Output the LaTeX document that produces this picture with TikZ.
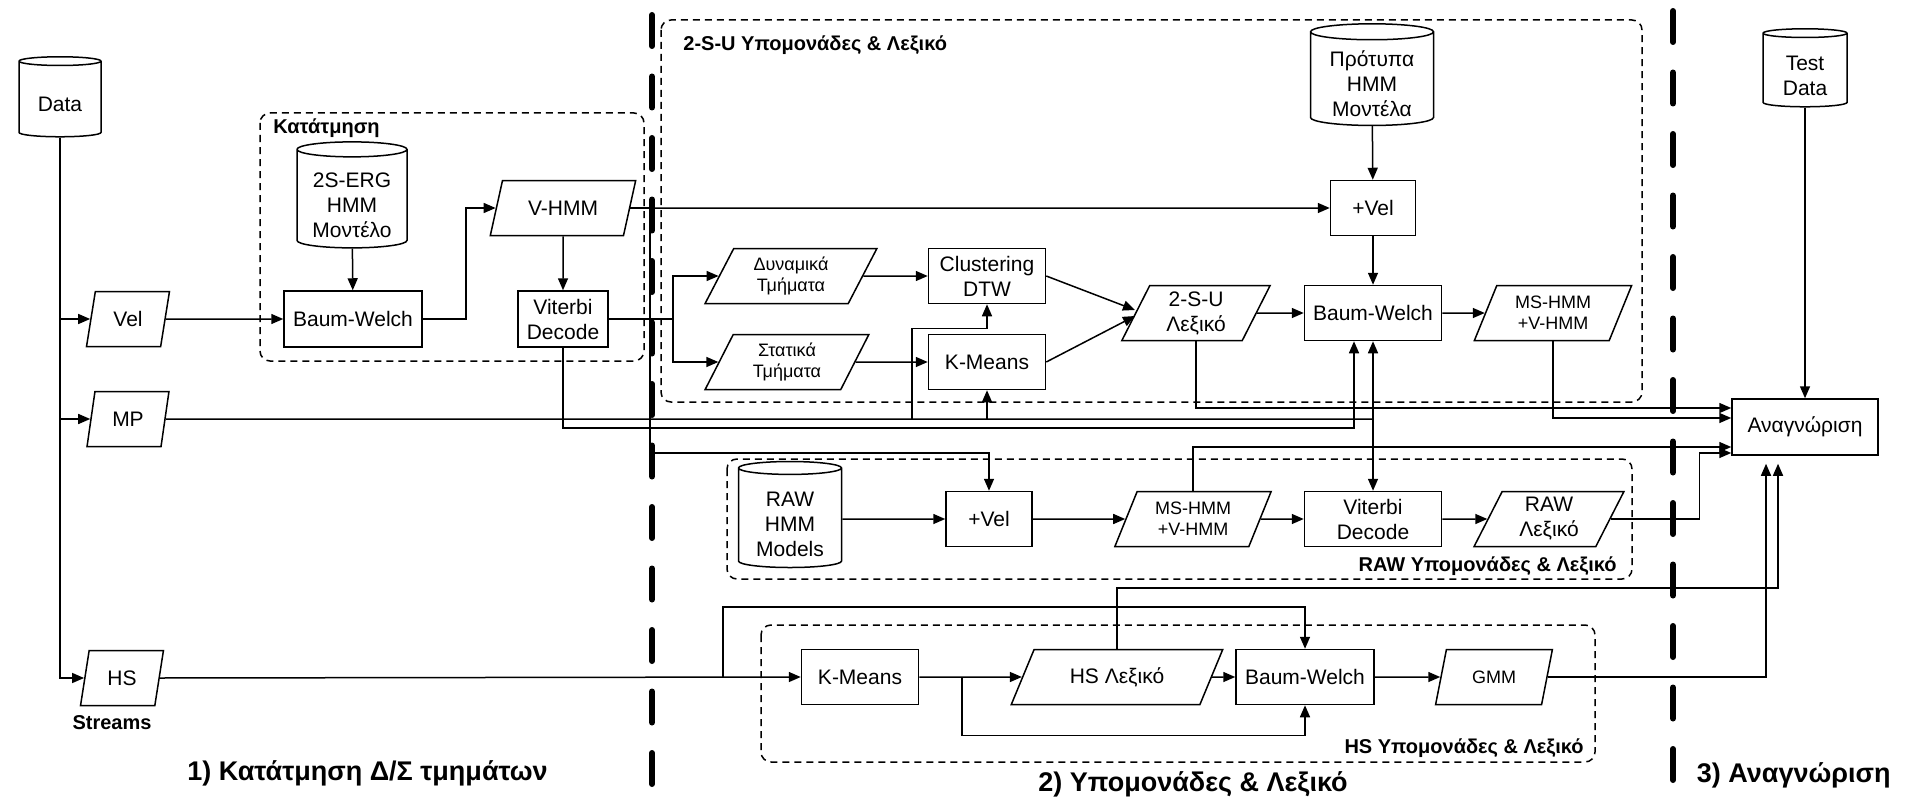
\documentclass[tikz,border=0pt]{standalone}
\usepackage{fontspec}
\setmainfont{Liberation Sans}
\usetikzlibrary{shapes.geometric,arrows.meta}
\newcommand\dbtext[1]{\raisebox{-3.5pt}[\height][\depth]{\begin{tabular}{@{}c@{}}#1\end{tabular}}}

\begin{document}
\begin{tikzpicture}[x=0.5pt,y=-0.5pt,line width=0.75pt,font=\fontsize{10.5}{12.5}\selectfont]
\tikzset{box/.style={rectangle,draw,fill=white,inner sep=2pt,align=center},
  db/.style={cylinder,shape border rotate=90,shape aspect=0.18,draw,fill=white,
    inner sep=1pt,align=center},
  para/.style={trapezium,trapezium stretches=true,trapezium left angle=#1,
    /utils/exec={\pgfmathsetmacro\rang{180-#1}},trapezium right angle=\rang,
    draw,fill=white,inner sep=1pt,align=center},
  para/.default=67,
  small/.style={font=\fontsize{9}{10.5}\selectfont},
  grp/.style={draw,dash pattern=on 3.5pt off 2.5pt,rounded corners=5pt},
  lbl/.style={font=\fontsize{10}{12}\selectfont\bfseries},
  big/.style={font=\fontsize{13.5}{16}\selectfont\bfseries},
  arr/.style={-{Triangle[length=6pt,width=5pt]}},
  divider/.style={line width=3pt,line cap=round,dash pattern=on 15.5pt off 15.25pt}}

\useasboundingbox (0,0) rectangle (1905,797);

% groups
\draw[grp] (260,113) rectangle (644,361);
\draw[grp] (661,20) rectangle (1642,402);
\draw[grp] (727,459) rectangle (1632,579);
\draw[grp] (761,625) rectangle (1595,762);
\node[lbl,anchor=west] (seglbl) at (266,128) {Κατάτμηση};
\node[lbl,anchor=west] (sulbl) at (676,45) {2-S-U Υπομονάδες \& Λεξικό};
\node[lbl,anchor=east] (rawlbl) at (1624,566) {RAW Υπομονάδες \& Λεξικό};
\node[lbl,anchor=east] (hslbl) at (1591,748) {HS Υπομονάδες \& Λεξικό};

% streams
\node[db,minimum width=41pt,minimum height=40pt] (data) at (60,100) {\dbtext{Data}};
\node[para=77,minimum width=41.5pt,minimum height=27.5pt] (vel) at (128,319) {Vel};
\node[para=77,minimum width=41pt,minimum height=27.5pt] (mp) at (128,419) {MP};
\node[para=77,minimum width=41.5pt,minimum height=27.5pt] (hs) at (122,678) {HS};
\node[lbl] (streams) at (112,723) {Streams};

% segmentation
\node[db,minimum width=55pt,minimum height=53pt] (erg) at (352,200) {\dbtext{2S-ERG\\HMM\\Μοντέλο}};
\node[box,minimum width=69pt,minimum height=28pt] (bwseg) at (353,319) {Baum-Welch};
\node[para=68,minimum width=73pt,minimum height=27.5pt] (vhmm) at (563,208) {V-HMM};
\node[box,minimum width=45pt,minimum height=28pt] (vitseg) at (563,319) {Viterbi\\Decode};

% 2-S-U
\node[para=65,small,minimum width=86pt,minimum height=27.5pt] (dyn) at (791,276) {Δυναμικά\\Τμήματα};
\node[para=66,small,minimum width=82pt,minimum height=27.5pt] (stat) at (787,362) {Στατικά\\Τμήματα};
\node[box,minimum width=58.5pt,minimum height=27.5pt] (clus) at (987,276) {Clustering\\DTW};
\node[box,minimum width=58.5pt,minimum height=27.5pt] (kmsu) at (987,362) {K-Means};
\node[para=68,minimum width=74.5pt,minimum height=27.5pt] (lexsu) at (1196,313) {2-S-U\\Λεξικό};
\node[db,minimum width=61.5pt,minimum height=50pt] (protsu) at (1372,80) {\dbtext{Πρότυπα\\HMM\\Μοντέλα}};
\node[box,minimum width=42.5pt,minimum height=27.5pt] (velsu) at (1373,208) {+Vel};
\node[box,minimum width=68.5pt,minimum height=27.5pt] (bwsu) at (1373,313) {Baum-Welch};
\node[para=67,small,minimum width=79pt,minimum height=27.5pt] (mssu) at (1553,313) {MS-HMM\\+V-HMM};

% RAW
\node[db,minimum width=51.5pt,minimum height=53pt] (rawdb) at (790,519) {\dbtext{RAW\\HMM\\Models}};
\node[box,minimum width=43pt,minimum height=27.5pt] (velraw) at (989,519) {+Vel};
\node[para=67,small,minimum width=78.5pt,minimum height=27.5pt] (msraw) at (1193,519) {MS-HMM\\+V-HMM};
\node[box,minimum width=68.5pt,minimum height=27.5pt] (vitraw) at (1373,519) {Viterbi\\Decode};
\node[para=68,minimum width=75pt,minimum height=27.5pt] (lexraw) at (1549,519) {RAW\\Λεξικό};

% HS
\node[box,minimum width=58.5pt,minimum height=27.5pt] (kmhs) at (860,677) {K-Means};
\node[para=60,minimum width=106pt,minimum height=27.5pt] (lexhs) at (1117,677) {HS Λεξικό};
\node[box,minimum width=69pt,minimum height=27.5pt] (bwhs) at (1305,677) {Baum-Welch};
\node[para=72,small,minimum width=58.5pt,minimum height=27.5pt] (gmm) at (1494,677) {GMM};

% recognition
\node[db,minimum width=42pt,minimum height=39pt] (test) at (1805,71) {\dbtext{Test\\Data}};
\node[box,minimum width=73pt,minimum height=28pt] (recog) at (1805,427) {Αναγνώριση};

\node[big,anchor=west] (stage1) at (180,773) {1) Κατάτμηση Δ/Σ τμημάτων};
\node[big] (stage2) at (1193,784) {2) Υπομονάδες \& Λεξικό};
\node[big,anchor=east] (stage3) at (1898,775) {3) Αναγνώριση};

\coordinate (vbr) at (650,453);
\coordinate (seg) at (673,319);
\coordinate (vitdown) at (1354,428);
\coordinate (mpend) at (1373,419);
\coordinate (clusin) at (912,419);
\coordinate (hsbr) at (723,677);
\coordinate (kmbr) at (962,677);

% connectors
\foreach \s in {vel,mp,hs} {
  \draw[arr] (data.south) |- (\s.west);
}
\draw[arr] (vel.east) -- (bwseg.west);
\draw[arr] (erg) -- (bwseg);
\draw[arr] (bwseg.east) -- ++(43,0) |- (vhmm.west);
\draw[arr] (vhmm) -- (vitseg);
\draw[arr] (vhmm.east) -- (velsu.west);
\draw[arr] (vhmm.east) -| (vbr) -| (velraw.north);
\draw (vitseg.east) -- (seg);
\draw[arr] (seg) |- (dyn.west);
\draw[arr] (seg) |- (stat.west);
\draw[arr] (dyn.east) -- (clus.west);
\draw[arr] (stat.east) -- (kmsu.west);
\draw[arr] (clus.east) -- ([yshift=1.5pt]lexsu.west);
\draw[arr] (kmsu.east) -- ([yshift=-1.5pt]lexsu.west);
\draw[arr] (lexsu.east) -- (bwsu.west);
\draw[arr] (bwsu.east) -- (mssu.west);
\draw[arr] (protsu) -- (velsu);
\draw[arr] (velsu) -- (bwsu);
\draw[arr] (vitseg.south) |- (vitdown) -- (vitdown |- bwsu.south);
\draw (mp.east) -- (mpend);
\draw[arr] (clusin) |- ([yshift=-12pt]clus.south) -- (clus.south);
\draw[arr] (kmsu.south |- mpend) -- (kmsu.south);
\draw[arr] (mpend) -- (bwsu.south);
\draw[arr] (mpend) -- (vitraw.north);
\draw[arr] (lexsu.south) |- ([yshift=9.5pt]recog.west);
\draw[arr] (mssu.south) |- ([yshift=4.5pt]recog.west);
\draw[arr] (msraw.north) |- ([yshift=-10pt]recog.west);
\draw[arr] (lexraw.east) -| ([xshift=-16pt,yshift=-13pt]recog.west) -- ([yshift=-13pt]recog.west);
\draw[arr] (rawdb.east) -- (velraw.west);
\foreach \a/\b in {velraw/msraw,msraw/vitraw,vitraw/lexraw} {
  \draw[arr] (\a.east) -- (\b.west);
}
\draw[arr] (hs.east) -- (kmhs.west);
\draw[arr] (hsbr) |- ([yshift=21pt]bwhs.north) -- (bwhs.north);
\draw[arr] (kmhs.east) -- (lexhs.west);
\draw[arr] (kmbr) |- ([yshift=-15pt]bwhs.south) -- (bwhs.south);
\draw[arr] (lexhs.east) -- (bwhs.west);
\draw[arr] (bwhs.east) -- (gmm.west);
\draw[arr,shorten >=4pt] (lexhs.north) |- ([xshift=-13.5pt,yshift=-66pt]recog.south) -- ([xshift=-13.5pt]recog.south);
\draw[arr,shorten >=4pt] (gmm.east) -| ([xshift=-19.5pt]recog.south);
\draw[arr] (test) -- (recog);

\foreach \x/\y in {652/15,1673/11} {
  \draw[divider] (\x,\y) -- (\x,792);
}
\end{tikzpicture}
\end{document}
